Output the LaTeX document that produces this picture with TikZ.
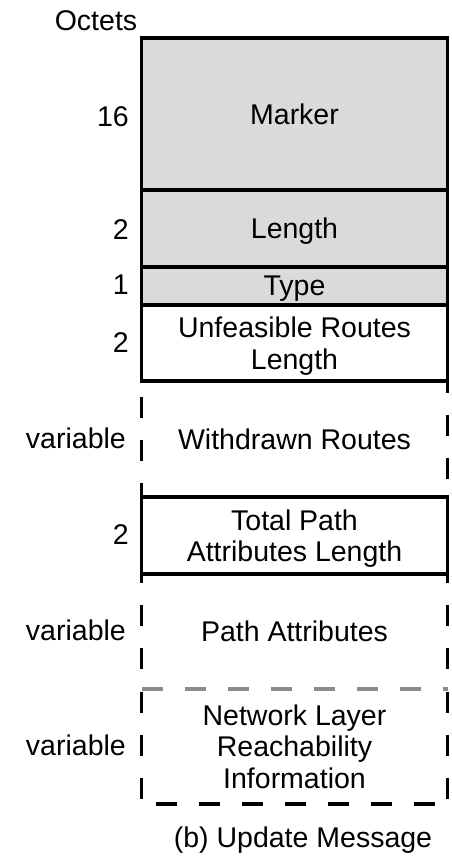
\documentclass[tikz,border=0pt]{standalone}
\usepackage{fontspec}
\setmainfont{Liberation Sans}
\definecolor{fieldgray}{RGB}{218,218,218}
\definecolor{dashgray}{RGB}{140,140,140}

\begin{document}
\begin{tikzpicture}[x=1pt, y=-1pt,
        field/.style={draw, line width=3.2pt, outer sep=0pt, inner sep=0pt, text depth=0pt,
            minimum width=306pt, align=center, font=\fontsize{28.5}{31.5}\selectfont},
        shaded/.style={field, fill=fieldgray},
        open/.style={field, draw=none},
        octetcount/.style={anchor=east, inner sep=0pt, font=\fontsize{28.5}{31.5}\selectfont},
        sideline/.style={line width=3.2pt, dash pattern=on 21pt off 22pt}]
        \useasboundingbox (0,0) rectangle (452,856);

        \node[octetcount, anchor=center] (head) at (96,21) {Octets};

        % fixed header
        \node[shaded, minimum height=152pt] (M) at (294.5,114)   {Marker};
        \node[shaded, minimum height=77pt]  (L) at (294.5,228.5) {Length};
        \node[shaded, minimum height=38pt]  (T) at (294.5,286)   {Type};

        % update fields
        \node[field, minimum height=76pt]  (U) at (294.5,343)   {Unfeasible Routes\\Length};
        \node[open,  minimum height=116pt] (W) at (294.5,439)   {Withdrawn Routes};
        \node[field, minimum height=77pt]  (P) at (294.5,535.5) {Total Path\\Attributes Length};
        \node[open,  minimum height=115pt] (A) at (294.5,631.5) {Path Attributes};
        \node[open,  minimum height=115pt] (N) at (294.5,746.5) {Network Layer\\Reachability\\Information};

        \node[octetcount] (nM) at (129,117) {16};
        \node[octetcount] (nL) at (129,230) {2};
        \node[octetcount] (nT) at (129,285) {1};
        \node[octetcount] (nU) at (129,343) {2};
        \node[octetcount] (nW) at (126,438) {variable};
        \node[octetcount] (nP) at (129,535) {2};
        \node[octetcount] (nA) at (126,630) {variable};
        \node[octetcount] (nN) at (126,745) {variable};

        \draw[sideline, dash phase=27pt] (W.north west) -- (W.south west);
        \draw[sideline, dash phase=9pt]  (W.north east) -- (W.south east);
        \draw[sideline, dash phase=12pt] (A.north west) -- (A.south west);
        \draw[sideline, dash phase=12pt] (A.north east) -- (A.south east);
        \draw[sideline, draw=dashgray]   (N.north west) -- (N.north east);
        \draw[sideline, dash phase=40pt] (N.north west) -- (N.south west);
        \draw[sideline, dash phase=40pt] (N.north east) -- (N.south east);
        \draw[sideline, dash phase=29pt] (N.south west) -- (N.south east);

        \node[font=\fontsize{28.5}{31.5}\selectfont] (caption) at (303,840) {(b) Update Message};
    \end{tikzpicture}
\end{document}
